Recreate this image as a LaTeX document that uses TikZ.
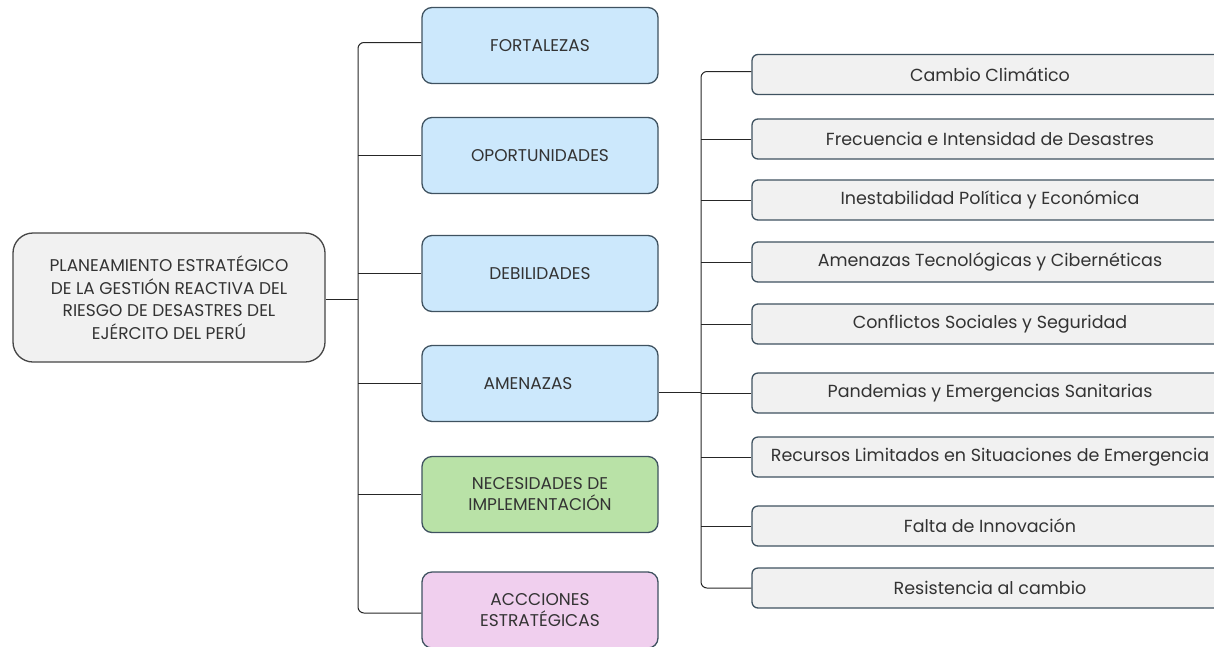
\documentclass[tikz,border=0pt]{standalone}
\usepackage{fontspec}
\setmainfont{Poppins}
\definecolor{bluefill}{HTML}{CCE8FC}
\definecolor{greenfill}{HTML}{B9E2A7}
\definecolor{pinkfill}{HTML}{F0CFEE}
\definecolor{grayfill}{HTML}{F1F1F1}
\definecolor{bordercol}{HTML}{3F5260}
\definecolor{rootborder}{HTML}{454545}
\definecolor{txt}{HTML}{333333}
\tikzset{
  base/.style={draw=bordercol, line width=1.3pt, text=txt, align=center, inner sep=0pt},
  rootbox/.style={base, draw=rootborder, fill=grayfill, rounded corners=20pt, minimum width=312pt, minimum height=129pt, font=\fontsize{17}{22.5}\selectfont},
  midbox/.style={base, rounded corners=10pt, minimum width=236pt, minimum height=76pt, font=\fontsize{17}{21}\selectfont},
  leafbox/.style={base, fill=grayfill, rounded corners=6pt, minimum width=476pt, minimum height=40pt, font=\fontsize{17.5}{20}\selectfont},
  conn/.style={draw=black!85, line width=1pt},
}
\begin{document}
\begin{tikzpicture}[x=1pt,y=-1pt]
\useasboundingbox (0,0) rectangle (1214,646);
\begin{scope}
\clip (0,0) rectangle (1214,646);
\node[rootbox] (root) at (169,297.5) {PLANEAMIENTO ESTRATÉGICO\\DE LA GESTIÓN REACTIVA DEL\\RIESGO DE DESASTRES DEL\\EJÉRCITO DEL PERÚ};
\node[midbox, fill=bluefill] (fort) at (540,45.5) {FORTALEZAS};
\node[midbox, fill=bluefill] (oport) at (540,155.5) {OPORTUNIDADES};
\node[midbox, fill=bluefill] (deb) at (540,273.5) {DEBILIDADES};
\node[midbox, fill=bluefill] (amen) at (540,383.5) {AMENAZAS\hspace*{24pt}};
\node[midbox, fill=greenfill] (nec) at (540,494.5) {NECESIDADES DE\\IMPLEMENTACIÓN};
\node[midbox, fill=pinkfill] (acc) at (540,610) {ACCCIONES\\ESTRATÉGICAS};
\node[leafbox] (c1) at (990,74.5) {Cambio Climático};
\node[leafbox] (c2) at (990,139) {Frecuencia e Intensidad de Desastres};
\node[leafbox] (c3) at (990,200) {Inestabilidad Política y Económica};
\node[leafbox] (c4) at (990,262) {Amenazas Tecnológicas y Cibernéticas};
\node[leafbox] (c5) at (990,324) {Conflictos Sociales y Seguridad};
\node[leafbox] (c6) at (990,393) {Pandemias y Emergencias Sanitarias};
\node[leafbox] (c7) at (990,457) {Recursos Limitados en Situaciones de Emergencia};
\node[leafbox] (c8) at (990,526) {Falta de Innovación};
\node[leafbox] (c9) at (990,588) {Resistencia al cambio};
\end{scope}
\coordinate (trunk) at (358,0);
\coordinate (trunkb) at (701,0);
\draw[conn, rounded corners=6pt] ([yshift=3pt]fort.west) -- ([yshift=3pt]fort.west -| trunk) -- ([yshift=-3pt]acc.west -| trunk) -- ([yshift=-3pt]acc.west);
\draw[conn] (oport.west) -- (oport.west -| trunk);
\draw[conn] (deb.west) -- (deb.west -| trunk);
\draw[conn] (amen.west) -- (amen.west -| trunk);
\draw[conn] (nec.west) -- (nec.west -| trunk);
\draw[conn] ([yshift=-2pt]root.east) -- ([yshift=-2pt]root.east -| trunk);
\draw[conn, rounded corners=6pt] ([yshift=3pt]c1.west) -- ([yshift=3pt]c1.west -| trunkb) -- (c9.west -| trunkb) -- (c9.west);
\foreach \n in {c2,c3,c4,c5,c6,c7,c8} \draw[conn] (\n.west) -- (\n.west -| trunkb);
\draw[conn] ([yshift=-8.5pt]amen.east) -- ([yshift=-8.5pt]amen.east -| trunkb);
\end{tikzpicture}
\end{document}
